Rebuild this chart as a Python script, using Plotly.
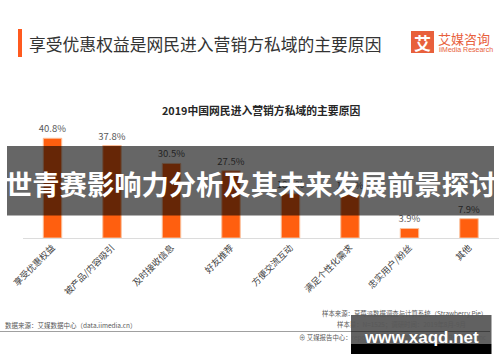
import plotly.graph_objects as go

W, H = 500, 362

categories = ["享受优惠权益", "被产品/内容吸引", "及时接收信息", "好友推荐",
              "方便交流互动", "满足个性化需求", "忠实用户/粉丝", "其他"]
values = [40.8, 37.8, 30.5, 27.5, 18.1, 17.7, 3.9, 7.9]
labels = [f"{v:.1f}%" for v in values]

CJK = "Noto Sans CJK SC, Noto Sans, sans-serif"
ORANGE = "#FF5F0F"


def px(x):
    return x / W


def py(y):
    return 1 - y / H


fig = go.Figure()
fig.add_trace(go.Bar(
    x=categories, y=values, text=labels, textposition="outside", constraintext="none",
    textfont=dict(size=9.5, color="#595959", family=CJK),
    marker=dict(color=ORANGE, line=dict(color="#FBC09C", width=1)),
    cliponaxis=False, hoverinfo="skip",
))

fig.update_layout(
    width=W, height=H, margin=dict(l=0, r=0, t=0, b=0),
    paper_bgcolor="white", plot_bgcolor="white", showlegend=False,
    bargap=0.69,
    font=dict(family=CJK),
    xaxis=dict(domain=[px(22.75), px(498.75)], showline=True, linecolor="#DCDCDC",
               linewidth=1, ticks="", tickangle=-45, automargin=False,
               tickfont=dict(size=9, color="#404040", family=CJK), showgrid=False),
    yaxis=dict(domain=[py(238), py(128)], range=[0, 45], visible=False,
               showgrid=False, zeroline=False),
)

shapes = []
annotations = []

# header accent bar
shapes.append(dict(type="rect", xref="paper", yref="paper", x0=px(18), x1=px(22),
                   y0=py(57), y1=py(29), fillcolor="#FF5A1F", line=dict(width=0)))
annotations.append(dict(text="享受优惠权益是网民进入营销方私域的主要原因", xref="paper", yref="paper",
                        x=px(27), y=py(43.5), xanchor="left", yanchor="middle", showarrow=False,
                        font=dict(size=16.8, color="#333333", family=CJK)))
# logo
shapes.append(dict(type="rect", xref="paper", yref="paper", x0=px(411), x1=px(434),
                   y0=py(53), y1=py(31), fillcolor="#E8603C", line=dict(width=0)))
annotations.append(dict(text="<b>艾</b>", xref="paper", yref="paper", x=px(422.5), y=py(42),
                        xanchor="center", yanchor="middle", showarrow=False,
                        font=dict(size=17, color="white", family=CJK)))
annotations.append(dict(text="艾媒咨询", xref="paper", yref="paper", x=px(436), y=py(38.5),
                        xanchor="left", yanchor="middle", showarrow=False,
                        font=dict(size=13, color="#E8603C", family=CJK)))
annotations.append(dict(text="iiMedia Research", xref="paper", yref="paper", x=px(436.5), y=py(49.5),
                        xanchor="left", yanchor="middle", showarrow=False,
                        font=dict(size=7, color="#E8603C", family="Liberation Sans, Arial, sans-serif")))

# chart title
annotations.append(dict(text="<b>2019中国网民进入营销方私域的主要原因</b>", xref="paper", yref="paper",
                        x=px(260.5), y=py(110), xanchor="center", yanchor="middle", showarrow=False,
                        font=dict(size=10.8, color="#262626", family=CJK)))

# footer
shapes.append(dict(type="line", xref="paper", yref="paper", x0=0, x1=px(490),
                   y0=py(331.5), y1=py(331.5), line=dict(color="#A0A0A0", width=1)))
annotations.append(dict(text="数据来源：艾媒数据中心（data.iimedia.cn）", xref="paper", yref="paper",
                        x=px(3), y=py(325), xanchor="left", yanchor="middle", showarrow=False,
                        font=dict(size=6.5, color="#595959", family=CJK)))
annotations.append(dict(text="样本来源：草莓派数据调查与计算系统（Strawberry Pie）", xref="paper", yref="paper",
                        x=px(489), y=py(313), xanchor="right", yanchor="middle", showarrow=False,
                        font=dict(size=6.4, color="#595959", family=CJK)))
annotations.append(dict(text="样本量：N=1525；调研时间：2019年8月-9月", xref="paper", yref="paper",
                        x=px(335), y=py(324), xanchor="left", yanchor="middle", showarrow=False,
                        font=dict(size=6.4, color="#595959", family=CJK)))
annotations.append(dict(text="⊕ 艾媒报告中心：report.iimedia.cn ©2019 iiMedia Research Inc",
                        xref="paper", yref="paper",
                        x=px(489), y=py(337.5), xanchor="right", yanchor="middle", showarrow=False,
                        font=dict(size=6.4, color="#595959", family=CJK)))

# watermark banner
shapes.append(dict(type="rect", xref="paper", yref="paper", x0=px(7), x1=px(494),
                   y0=py(215.5), y1=py(146), fillcolor="rgba(0,0,0,0.6)", line=dict(width=0)))
annotations.append(dict(text="<b>世青赛影响力分析及其未来发展前景探讨</b>", xref="paper", yref="paper",
                        x=px(250.5), y=py(183), xanchor="center", yanchor="middle", showarrow=False,
                        font=dict(size=27.3, color="white", family=CJK)))

# site box
shapes.append(dict(type="rect", xref="paper", yref="paper", x0=px(351), x1=px(491.5),
                   y0=py(344), y1=py(315), fillcolor="rgba(0,0,0,0.62)", line=dict(width=0)))
shapes.append(dict(type="rect", xref="paper", yref="paper", x0=px(351), x1=px(491.5),
                   y0=py(354), y1=py(344), fillcolor="black", line=dict(width=0)))
annotations.append(dict(text="<b>www.xaqd.net</b>", xref="paper", yref="paper",
                        x=px(421), y=py(337.5), xanchor="center", yanchor="middle", showarrow=False,
                        font=dict(size=17, color="white", family="Liberation Sans, Arial, sans-serif")))

fig.update_layout(shapes=shapes, annotations=annotations)
fig.write_html("out.html", config={"displayModeBar": False},
               post_script="document.body.style.margin='0';document.body.style.overflow='hidden';")
